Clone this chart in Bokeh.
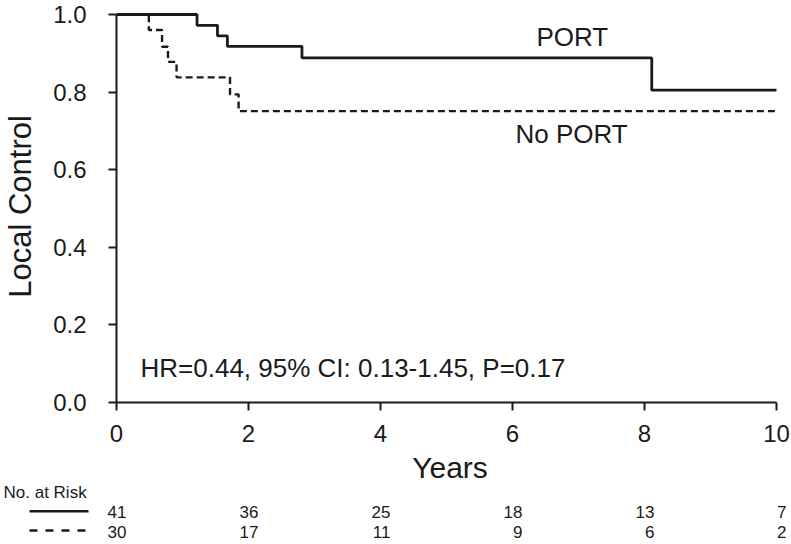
from bokeh.plotting import figure
from bokeh.models import Range1d, FixedTicker, PrintfTickFormatter, Label, ColumnDataSource
from bokeh.layouts import column
from bokeh.embed import file_html
from bokeh.resources import INLINE
from bokeh.core.properties import value

# ---------------- data ----------------
port_time = [0.0, 1.22, 1.53, 1.68, 2.81, 8.11, 10.0]
port_surv = [1.0, 0.972, 0.945, 0.918, 0.888, 0.805, 0.805]
noport_time = [0.0, 0.49, 0.69, 0.78, 0.91, 1.72, 1.85, 10.0]
noport_surv = [1.0, 0.960, 0.917, 0.878, 0.838, 0.794, 0.751, 0.751]
x_ticks = [0, 2, 4, 6, 8, 10]
y_ticks = [0.0, 0.2, 0.4, 0.6, 0.8, 1.0]
risk_times = [0, 2, 4, 6, 8, 10]
risk_port = [41, 36, 25, 18, 13, 7]
risk_noport = [30, 17, 11, 9, 6, 2]
label_port = "PORT"
label_noport = "No PORT"
stats_text = "HR=0.44, 95% CI: 0.13-1.45, P=0.17"
x_title = "Years"
y_title = "Local Control"
risk_title = "No. at Risk"

# ---------------- layout constants (page pixels) ----------------
FONT = "Liberation Sans"
INK = "#1a1a1a"
W = 791
H_MAIN = 486
OVERLAP = 5                       # the table panel is pulled up under the main panel
RISK_TOP = H_MAIN - OVERLAP
H_RISK = 544 - RISK_TOP
PX_YEAR = 66.0      # pixels per year
X0 = 116            # page x of year 0
Y0 = 403            # page y of value 0
Y1 = 14             # page y of value 1
TOP = 10            # page y of the frame top
RIGHT_PAD = 8
PX_UNIT = Y0 - Y1

x_end = (W - X0 - RIGHT_PAD) / PX_YEAR
y_end = (Y0 - TOP) / PX_UNIT

p = figure(width=W, height=H_MAIN, output_backend="svg", toolbar_location=None,
           x_range=Range1d(0, x_end), y_range=Range1d(0, y_end),
           min_border_left=X0, min_border_right=RIGHT_PAD,
           min_border_top=TOP, min_border_bottom=H_MAIN - Y0)
p.frame_align = False
p.outline_line_color = None
p.xgrid.visible = False
p.ygrid.visible = False
p.background_fill_color = "white"
p.border_fill_color = "white"

p.step(port_time, port_surv, mode="after", line_color=INK, line_width=2.8)
p.step(noport_time, noport_surv, mode="after", line_color=INK, line_width=2.4,
       line_dash="7 4")

for ax in (p.xaxis[0], p.yaxis[0]):
    ax.axis_line_color = INK
    ax.axis_line_width = 2
    ax.major_tick_line_color = INK
    ax.major_tick_line_width = 2
    ax.major_tick_in = 0
    ax.major_tick_out = 8
    ax.minor_tick_line_color = None
    ax.major_label_text_font = FONT
    ax.major_label_text_font_size = "24px"
    ax.major_label_text_color = INK
    ax.axis_label_text_font = FONT
    ax.axis_label_text_font_style = "normal"
    ax.axis_label_text_color = INK

p.xaxis.ticker = FixedTicker(ticks=x_ticks)
p.xaxis.bounds = (0, 10)
p.xaxis.major_label_standoff = 14
p.xaxis.axis_label = x_title
p.xaxis.axis_label_text_font_size = "30px"
p.xaxis.axis_label_standoff = 6

p.yaxis.ticker = FixedTicker(ticks=y_ticks)
p.yaxis.bounds = (0, 1)
p.yaxis.formatter = PrintfTickFormatter(format="%.1f")
p.yaxis.major_label_standoff = 22
p.yaxis.axis_label = y_title
p.yaxis.axis_label_text_font_size = "31px"
p.yaxis.axis_label_standoff = 12


def yr(px):
    return (px - X0) / PX_YEAR


def val(py):
    return (Y0 - py) / PX_UNIT


def lab(text, x, y, size):
    p.add_layout(Label(x=x, y=y, text=text, text_font=FONT, text_font_size=size,
                       text_color=INK, text_align="left", text_baseline="middle"))


# text anchors are the vertical centres of the capital letters
lab(label_port, yr(536), val(37), "26px")
lab(label_noport, yr(515), val(134.2), "26px")
lab(stats_text, yr(140), val(368.3), "26px")

# ---------------- number at risk table ----------------
r = figure(width=W, height=H_RISK, output_backend="svg", toolbar_location=None,
           x_range=Range1d(-X0 / PX_YEAR, (W - X0) / PX_YEAR),
           y_range=Range1d(RISK_TOP + H_RISK, RISK_TOP),
           x_axis_location=None, y_axis_location=None,
           min_border_left=0, min_border_right=0, min_border_top=0, min_border_bottom=0)
r.frame_align = False
r.margin = (-OVERLAP, 0, 0, 0)
r.outline_line_color = None
r.xgrid.visible = False
r.ygrid.visible = False
r.background_fill_color = None
r.border_fill_color = None

ROW1 = 511.5
ROW2 = 531.5
r.text(x=[yr(3)], y=[491.8], text=[risk_title], text_font=value(FONT), text_font_size="17px",
       text_color=INK, text_baseline="middle", text_align="left")
src1 = ColumnDataSource(dict(x=risk_times, y=[ROW1] * len(risk_times), t=[str(v) for v in risk_port]))
src2 = ColumnDataSource(dict(x=risk_times, y=[ROW2] * len(risk_times), t=[str(v) for v in risk_noport]))
for s in (src1, src2):
    r.text(x="x", y="y", text="t", source=s, x_offset=10, text_align="right",
           text_baseline="middle", text_font=value(FONT), text_font_size="17px",
           text_color=INK)
r.line([yr(29), yr(88)], [510.7, 510.7], line_color=INK, line_width=2.4)
r.line([yr(29), yr(88)], [530, 530], line_color=INK, line_width=2.4, line_dash="8 8")

layout = column(p, r, spacing=0)
open("out.html", "w").write(file_html(layout, INLINE))
